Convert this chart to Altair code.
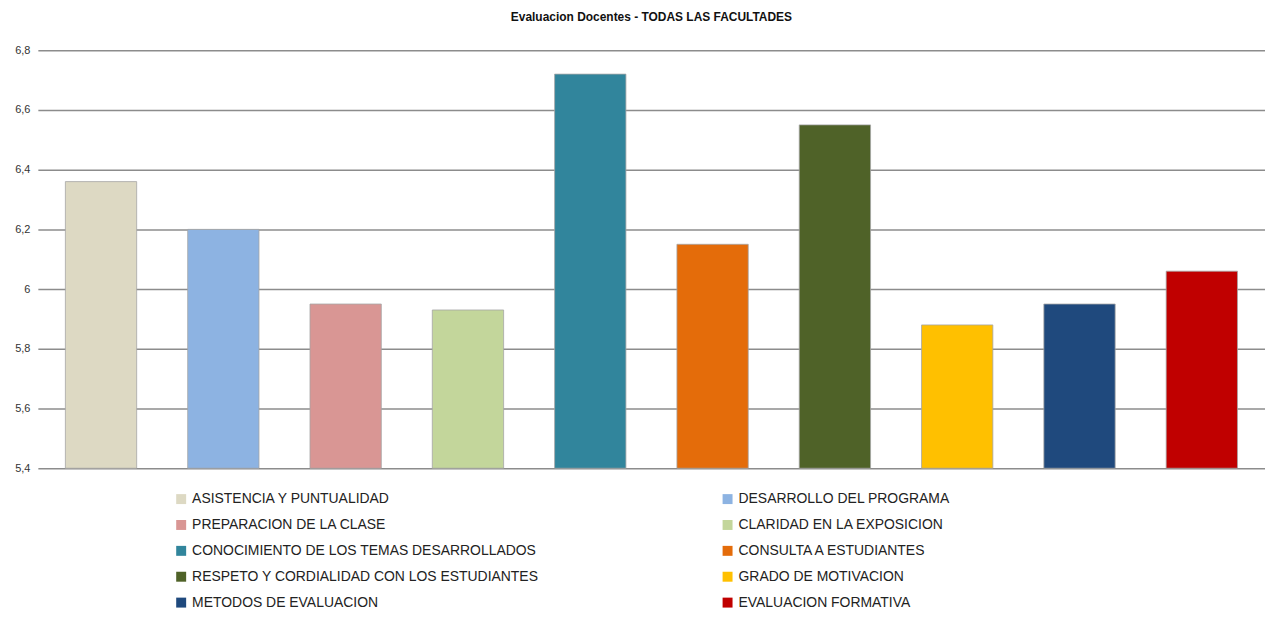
import altair as alt
import pandas as pd

categorias = [
    "ASISTENCIA Y PUNTUALIDAD",
    "DESARROLLO DEL PROGRAMA",
    "PREPARACION DE LA CLASE",
    "CLARIDAD EN  LA EXPOSICION",
    "CONOCIMIENTO DE LOS TEMAS DESARROLLADOS",
    "CONSULTA A ESTUDIANTES",
    "RESPETO Y CORDIALIDAD CON LOS ESTUDIANTES",
    "GRADO DE MOTIVACION",
    "METODOS DE EVALUACION",
    "EVALUACION FORMATIVA",
]
valores = [6.36, 6.20, 5.95, 5.93, 6.72, 6.15, 6.55, 5.88, 5.95, 6.06]
colores = ["#DDD9C3", "#8DB3E2", "#D99694", "#C3D69B", "#31859C",
           "#E46C0A", "#4F6228", "#FFC000", "#1F497D", "#C00000"]
ticks_y = [5.4, 5.6, 5.8, 6.0, 6.2, 6.4, 6.6, 6.8]

df = pd.DataFrame({"categoria": categorias, "valor": valores})

chart = alt.Chart(df).mark_bar(stroke="#a6a6a6", strokeWidth=0.8).encode(
    x=alt.X("categoria:N", sort=categorias, axis=None,
            scale=alt.Scale(paddingInner=0.417, paddingOuter=0.225)),
    y=alt.Y("valor:Q",
            scale=alt.Scale(domain=[5.4, 6.8], nice=False, zero=False),
            axis=alt.Axis(values=ticks_y, title=None, domain=False, ticks=False,
                          labelPadding=8, gridColor="#8c8c8c", gridWidth=1.5,
                          labelFontSize=11, labelColor="#333333",
                          labelFont="Liberation Sans",
                          labelExpr="replace(format(datum.value, '.1~f'), '.', ',')")),
    y2=alt.datum(5.4),
    color=alt.Color("categoria:N", sort=categorias,
                    scale=alt.Scale(domain=categorias, range=colores),
                    legend=alt.Legend(title=None, orient="none", legendX=137, legendY=444,
                                      direction="horizontal",
                                      columns=2, columnPadding=182, rowPadding=12,
                                      symbolType="square", symbolSize=100,
                                      symbolStrokeWidth=0,
                                      labelFont="Liberation Sans", labelFontSize=14,
                                      labelColor="#222222", labelOffset=4,
                                      labelLimit=600)),
).properties(
    width=1233,
    height=420,
    autosize=alt.AutoSizeParams(type="none"),
    padding={"left": 30, "top": 41, "right": 0, "bottom": 142},
    title=alt.TitleParams("Evaluacion Docentes - TODAS LAS FACULTADES",
                          fontSize=12, font="Liberation Sans", fontWeight="bold",
                          color="#111111", offset=20),
).configure_view(stroke=None)

chart.save("out.html", embed_options={"renderer": "svg", "actions": False})
